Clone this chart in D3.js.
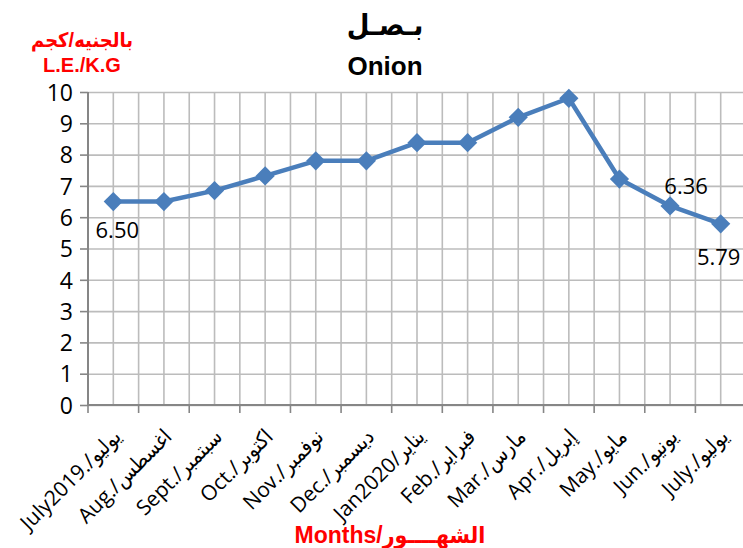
<!DOCTYPE html>
<html>
<head>
<meta charset="utf-8">
<script src="https://cdn.jsdelivr.net/npm/d3@7"></script>
<style>
  body{margin:0;background:#fff;}
  svg{display:block;}
</style>
</head>
<body>
<div id="chart"></div>
<script>
// onion price, LE per kg
const months = ["July2019./يوليو","Aug./اغسطس","Sept./سبتمبر","Oct./اكتوبر","Nov./نوفمبر","Dec./ديسمبر",
  "Jan2020/يناير","Feb./فبراير","Mar./مارس","Apr./إبريل","May./مايو","Jun./يونيو","July./يوليو"];
const prices = [6.50, 6.50, 6.85, 7.32, 7.80, 7.80, 8.38, 8.38, 9.19, 9.80, 7.22, 6.36, 5.79];
const yTicks = [0,1,2,3,4,5,6,7,8,9,10];
const labelled = [0, 11, 12];

(function(){
  const W=743, H=548;
  const left=88, right=746, top=92, bottom=405;
  const blue='#4a7ebb', grid='#bcbcbc', axisC='#868686';
  const numFont='"Open Sans","DejaVu Sans Condensed","DejaVu Sans",sans-serif';

  const svg=d3.select('#chart').append('svg').attr('width',W).attr('height',H);

  const x=d3.scaleBand().domain(months).range([left,right]).paddingInner(0).paddingOuter(0);
  const bw=x.bandwidth();
  const cx=m=>x(m)+bw/2;
  const y=d3.scaleLinear().domain([0,10]).range([bottom,top]);

  // horizontal grid
  svg.append('g').attr('transform',`translate(${left},0)`)
    .call(d3.axisLeft(y).tickValues(yTicks).tickSize(-(right-left)).tickFormat(''))
    .call(g=>g.select('.domain').remove())
    .call(g=>g.selectAll('line').attr('stroke',grid).attr('stroke-width',1.6));

  // vertical grid: boundaries and centres
  const vx=[];
  months.forEach(m=>{ vx.push(x(m)); vx.push(cx(m)); });
  vx.push(right);
  svg.append('g').selectAll('line').data(vx).join('line')
    .attr('x1',d=>d).attr('x2',d=>d).attr('y1',top).attr('y2',bottom)
    .attr('stroke',grid).attr('stroke-width',1.6);

  // y axis
  const ya=svg.append('g').attr('transform',`translate(${left},0)`)
    .call(d3.axisLeft(y).tickValues(yTicks).tickSize(8).tickPadding(7).tickFormat(d3.format('d')));
  ya.select('.domain').attr('stroke',axisC).attr('stroke-width',2).attr('d',`M0,${top}V${bottom}`);
  ya.selectAll('line').attr('stroke',axisC).attr('stroke-width',1.6);
  ya.selectAll('text').attr('font-family',numFont).attr('font-size',23).attr('fill','#000').attr('dy','0.36em');

  // x axis
  const xa=svg.append('g').attr('transform',`translate(0,${bottom})`)
    .call(d3.axisBottom(x).tickSize(0).tickFormat(''));
  xa.select('.domain').attr('stroke',axisC).attr('stroke-width',2).attr('d',`M${left},0H${W}`);
  xa.selectAll('.tick').remove();
  svg.append('g').selectAll('line').data(months.map(m=>x(m)).concat([right])).join('line')
    .attr('x1',d=>d).attr('x2',d=>d).attr('y1',bottom).attr('y2',bottom+8)
    .attr('stroke',axisC).attr('stroke-width',1.6);

  // category labels, rotated
  svg.append('g').selectAll('text').data(months).join('text')
    .attr('transform',m=>`translate(${cx(m)+9},${bottom+33}) rotate(-45)`)
    .attr('text-anchor','end')
    .attr('font-family',numFont).attr('font-size',21).attr('fill','#000')
    .text(m=>m);

  // line + markers
  const line=d3.line().x((d,i)=>cx(months[i])).y(d=>y(d));
  svg.append('path').datum(prices).attr('d',line)
    .attr('fill','none').attr('stroke',blue).attr('stroke-width',4.5).attr('stroke-linejoin','round');
  svg.append('g').selectAll('path').data(prices).join('path')
    .attr('d',d3.symbol().type(d3.symbolSquare).size(185))
    .attr('transform',(d,i)=>`translate(${cx(months[i])},${y(d)}) rotate(45)`)
    .attr('fill',blue);

  // data labels
  const off={0:[4,36],11:[16,-12],12:[-2,41]};
  svg.append('g').selectAll('text').data(labelled).join('text')
    .attr('x',i=>cx(months[i])+off[i][0]).attr('y',i=>y(prices[i])+off[i][1])
    .attr('text-anchor','middle')
    .attr('font-family',numFont).attr('font-size',22).attr('fill','#000')
    .text(i=>d3.format('.2f')(prices[i]));

  // titles
  const boldF='"Liberation Sans",Arial,"DejaVu Sans Condensed","DejaVu Sans",sans-serif';
  svg.append('text').attr('x',385).attr('y',35).attr('text-anchor','middle')
    .attr('font-family',boldF).attr('font-weight','bold').attr('font-size',29).text('بـصـل');
  svg.append('text').attr('x',385).attr('y',75).attr('text-anchor','middle')
    .attr('font-family',boldF).attr('font-weight','bold').attr('font-size',26).text('Onion');

  svg.append('text').attr('x',82).attr('y',47).attr('text-anchor','middle')
    .attr('font-family',boldF).attr('font-weight','bold').attr('font-size',20).attr('fill','#ff0000').text('بالجنيه/كجم');
  svg.append('text').attr('x',82).attr('y',72).attr('text-anchor','middle')
    .attr('font-family',boldF).attr('font-weight','bold').attr('font-size',20).attr('fill','#ff0000').text('L.E./K.G');

  svg.append('text').attr('x',390).attr('y',543).attr('text-anchor','middle')
    .attr('font-family',boldF).attr('font-weight','bold').attr('font-size',23).attr('fill','#ff0000').text('Months/الشهــــور');
})();
</script>
</body>
</html>
